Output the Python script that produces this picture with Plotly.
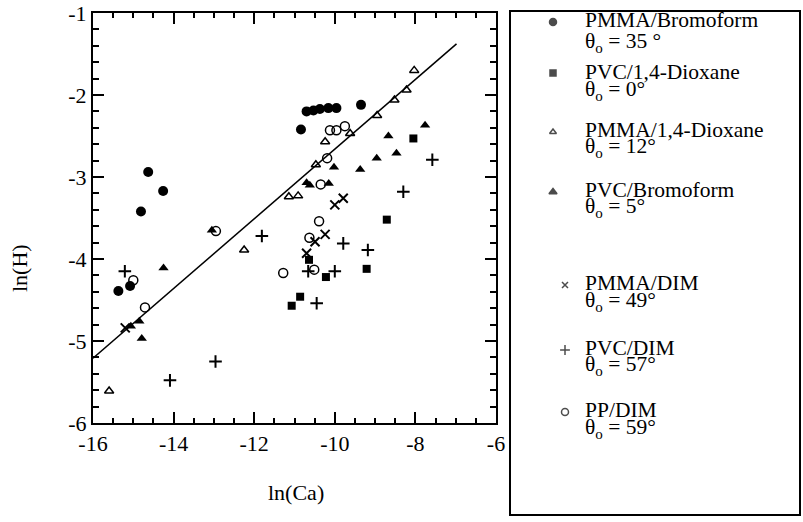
import plotly.graph_objects as go

# ---------------- data ----------------
pmma_bromo_x = [-10.70, -10.53, -10.37, -10.16, -9.96, -9.35, -10.84, -14.63, -14.26, -14.81, -15.08, -15.37]
pmma_bromo_y = [-2.20, -2.19, -2.17, -2.16, -2.16, -2.12, -2.42, -2.94, -3.17, -3.42, -4.33, -4.39]

pvc_diox_x = [-8.05, -8.71, -10.64, -10.22, -9.21, -10.86, -11.07]
pvc_diox_y = [-2.53, -3.52, -4.01, -4.22, -4.12, -4.46, -4.57]

pmma_diox_x = [-8.03, -8.22, -8.52, -8.95, -9.62, -10.24, -10.47, -10.91, -11.14, -12.25, -15.60]
pmma_diox_y = [-1.70, -1.94, -2.06, -2.25, -2.47, -2.57, -2.85, -3.23, -3.24, -3.89, -5.61]

pvc_bromo_x = [-7.76, -8.67, -8.96, -8.47, -10.02, -9.37, -10.70, -10.62, -10.15, -13.05, -14.25, -14.85, -14.79, -15.06]
pvc_bromo_y = [-2.37, -2.50, -2.77, -2.71, -2.88, -2.91, -3.07, -3.10, -3.08, -3.65, -4.11, -4.76, -4.97, -4.82]

pmma_dim_x = [-10.00, -9.79, -10.49, -10.24, -10.70, -15.20]
pmma_dim_y = [-3.34, -3.26, -3.79, -3.70, -3.93, -4.84]

pvc_dim_x = [-7.58, -8.30, -11.81, -15.21, -12.96, -14.09, -9.79, -9.18, -10.66, -10.00, -10.45]
pvc_dim_y = [-2.79, -3.18, -3.72, -4.15, -5.25, -5.48, -3.81, -3.89, -4.15, -4.15, -4.54]

pp_dim_x = [-10.12, -9.96, -9.75, -10.19, -10.35, -10.39, -10.63, -10.51, -11.28, -12.95, -15.00, -14.71]
pp_dim_y = [-2.43, -2.43, -2.38, -2.77, -3.09, -3.54, -3.74, -4.13, -4.17, -3.66, -4.26, -4.59]

fit_x = [-16.0, -6.98]
fit_slope = 0.425
fit_intercept = 1.59

series_names = ["PMMA/Bromoform", "PVC/1,4-Dioxane", "PMMA/1,4-Dioxane", "PVC/Bromoform",
                "PMMA/DIM", "PVC/DIM", "PP/DIM"]
theta_labels = ["35 °", "0°", "12°", "5°", "49°", "57°", "59°"]

x_tickvals = [-16, -14, -12, -10, -8, -6]
x_ticktext = ["-16", "-14", "-12", "-10", "-8", "-6"]
y_tickvals = [-6, -5, -4, -3, -2, -1]
y_ticktext = ["-6", "-5", "-4", "-3", "-2", "-1"]

# ---------------- layout geometry (pixels) ----------------
W, H = 803, 522
L, R, T, B = 93, 496, 13, 423
FONT = "Liberation Serif"


def fx(xp):
    return xp / W


def fy(yp):
    return (H - yp) / H


fig = go.Figure()

styles = [
    dict(symbol="circle", size=10, color="black"),
    dict(symbol="square", size=8, color="black"),
    dict(symbol="triangle-up-open", size=8, color="black", line=dict(width=1.5, color="black")),
    dict(symbol="triangle-up", size=9, color="black"),
    dict(symbol="x-thin-open", size=9, color="black", line=dict(width=2, color="black")),
    dict(symbol="cross-thin-open", size=9, color="black", line=dict(width=2, color="black")),
    dict(symbol="circle-open", size=9, color="black", line=dict(width=1.5, color="black")),
]
xs = [pmma_bromo_x, pvc_diox_x, pmma_diox_x, pvc_bromo_x, pmma_dim_x, pvc_dim_x, pp_dim_x]
ys = [pmma_bromo_y, pvc_diox_y, pmma_diox_y, pvc_bromo_y, pmma_dim_y, pvc_dim_y, pp_dim_y]

# fit line
fit_y = [fit_slope * v + fit_intercept for v in fit_x]
fig.add_trace(go.Scatter(x=fit_x, y=fit_y, mode="lines", line=dict(color="black", width=1.5),
                         showlegend=False, hoverinfo="skip"))

for name, x, y, st in zip(series_names, xs, ys, styles):
    fig.add_trace(go.Scatter(x=x, y=y, mode="markers", name=name, marker=st, showlegend=False))

# ---------------- hand-made legend ----------------
name_y = [20, 72, 130, 190, 283, 348, 410]
theta_y = [42, 90, 147, 207, 301, 366, 428]
sym_y = [22, 73, 132, 192, 285, 350, 412]
sym_x = [553, 553, 553, 553, 565, 565, 565]
text_x = 583
leg_symbols = ["circle", "square", "triangle-up-open", "triangle-up", "x-thin-open", "cross-thin-open", "circle-open"]
leg_sizes = [7, 6, 6, 7, 6, 7, 7]

fig.add_trace(go.Scatter(
    x=sym_x, y=sym_y, xaxis="x2", yaxis="y2", mode="markers", cliponaxis=False,
    marker=dict(symbol=leg_symbols, size=leg_sizes, color="black", line=dict(width=1.5, color="black")),
    showlegend=False, hoverinfo="skip"))

annotations = []
for nm, th, ny, ty in zip(series_names, theta_labels, name_y, theta_y):
    annotations.append(dict(x=fx(text_x), y=fy(ny), xref="paper", yref="paper", text=nm,
                            showarrow=False, xanchor="left", yanchor="middle",
                            font=dict(family=FONT, size=21.5, color="black")))
    annotations.append(dict(x=fx(text_x), y=fy(ty), xref="paper", yref="paper",
                            text="θ<sub>o</sub> = " + th,
                            showarrow=False, xanchor="left", yanchor="middle",
                            font=dict(family=FONT, size=21.5, color="black")))

# axis titles
annotations.append(dict(x=fx(296), y=fy(492), xref="paper", yref="paper", text="ln(Ca)",
                        showarrow=False, xanchor="center", yanchor="middle",
                        font=dict(family=FONT, size=22, color="black")))
annotations.append(dict(x=fx(19), y=fy(268), xref="paper", yref="paper", text="ln(H)",
                        showarrow=False, xanchor="center", yanchor="middle", textangle=-90,
                        font=dict(family=FONT, size=22, color="black")))

shapes = [dict(type="rect", xref="paper", yref="paper",
               x0=fx(510), x1=fx(800), y0=fy(515), y1=fy(11),
               line=dict(color="black", width=2), fillcolor="rgba(0,0,0,0)")]

axis_common = dict(showline=True, linecolor="black", linewidth=2, mirror="allticks",
                   ticks="inside", tickcolor="black", tickwidth=1.5, ticklen=11,
                   showgrid=False, zeroline=False, automargin=False,
                   tickfont=dict(family=FONT, size=22, color="black"))

fig.update_layout(
    width=W, height=H,
    margin=dict(l=0, r=0, t=0, b=0, pad=0, autoexpand=False),
    paper_bgcolor="white", plot_bgcolor="rgba(0,0,0,0)",
    showlegend=False,
    xaxis=dict(domain=[L / W, R / W], range=[-16, -6], tickvals=x_tickvals, ticktext=x_ticktext,
               anchor="y",
               minor=dict(dtick=0.5, tick0=-16, ticks="inside", ticklen=5, tickcolor="black", tickwidth=1.5),
               ticklabelstandoff=0, **axis_common),
    yaxis=dict(domain=[(H - B) / H, (H - T) / H], range=[-6, -1], tickvals=y_tickvals, ticktext=y_ticktext,
               anchor="x",
               minor=dict(dtick=0.2, tick0=-6, ticks="inside", ticklen=6, tickcolor="black", tickwidth=1.5),
               ticklabelstandoff=0, **axis_common),
    xaxis2=dict(domain=[0, 1], range=[0, W], visible=False, anchor="y2"),
    yaxis2=dict(domain=[0, 1], range=[H, 0], visible=False, anchor="x2"),
    annotations=annotations,
    shapes=shapes,
)

fig.write_html("out.html", config={"displayModeBar": False},
               post_script="document.body.style.margin='0px';document.body.style.padding='0px';")
